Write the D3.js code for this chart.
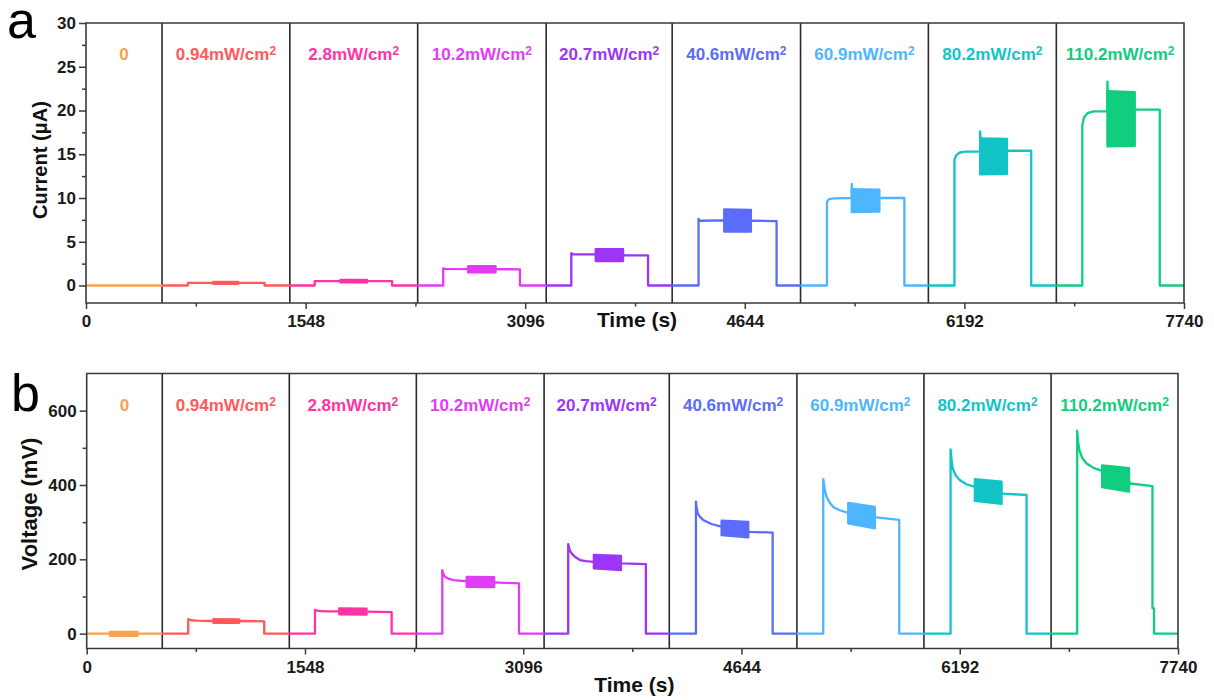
<!DOCTYPE html>
<html><head><meta charset="utf-8">
<script src="https://cdn.jsdelivr.net/npm/d3@7"></script>
<style>body{margin:0;background:#fff;} svg{display:block;font-family:"Liberation Sans",Arial,sans-serif;}</style>
</head><body><svg id="c" width="1214" height="700"></svg>
<script>
// ---- data ----
const segBounds = [0, 536, 1437, 2338, 3244, 4132, 5037, 5938, 6840, 7740];
const intensities = ["0", "0.94", "2.8", "10.2", "20.7", "40.6", "60.9", "80.2", "110.2"];
const seriesColors = ["#f7a24e", "#ff5a5a", "#ff33a3", "#e03df5", "#9b35f7", "#5b6bfa", "#4db6ff", "#12c4c6", "#10cd80"];
const xTicks = [0, 1548, 3096, 4644, 6192, 7740];
const xMinorTicks = [774, 2322, 3870, 5418, 6966];
const currentTicks = [0, 5, 10, 15, 20, 25, 30];
const currentMinorTicks = [2.5, 7.5, 12.5, 17.5, 22.5, 27.5];
const voltageTicks = [0, 200, 400, 600];
const voltageMinorTicks = [100, 300, 500];

const currentTraces = [
  [[0,0],[536,0]],
  [[536,0],[718,0],[718,0.3],[1259,0.3],[1259,0],[1437,0]],
  [[1437,0],[1612,0],[1612,0.5],[2158,0.5],[2158,0],[2338,0]],
  [[2338,0],[2518,0],[2518,1.95],[2530,1.9],[3059,1.85],[3059,0],[3244,0]],
  [[3244,0],[3421,0],[3421,3.7],[3432,3.55],[3593,3.55],[3786,3.45],[3962,3.45],[3962,0],[4132,0]],
  [[4132,0],[4318,0],[4318,7.6],[4328,7.4],[4499,7.45],[4687,7.4],[4868,7.35],[4868,0],[5037,0]],
  [[5037,0],[5223,0],[5223,9.5],[5235,9.85],[5270,9.95],[5398,10.0],[5398,11.6],[5405,10.0],[5593,10.0],[5769,10.0],[5769,0],[5938,0]],
  [[5938,0],[6122,0],[6122,14.4],[6135,14.9],[6160,15.2],[6200,15.3],[6303,15.3],[6303,17.6],[6310,15.3],[6492,15.4],[6663,15.4],[6663,0],[6840,0]],
  [[6840,0],[7023,0],[7023,18.3],[7035,19.2],[7060,19.7],[7100,19.9],[7200,19.9],[7200,23.3],[7207,20],[7393,20.1],[7569,20.1],[7569,0],[7740,0]]
];
const currentBlocks = [
  null,
  [[897,0.2,0.4],[1073,0.2,0.4]],
  [[1793,0.35,0.65],[1981,0.35,0.65]],
  [[2694,1.5,2.2],[2887,1.5,2.2]],
  [[3593,2.8,4.15],[3786,2.8,4.15]],
  [[4499,6.15,8.7],[4687,6.15,8.65]],
  [[5398,8.4,11.0],[5593,8.45,10.95]],
  [[6303,12.7,16.8],[6492,12.75,16.75]],
  [[7200,15.9,22.2],[7393,15.95,22.1]]
];
const voltageTraces = [
  [[0,0],[536,0]],
  [[536,0],[720,0],[720,39],[740,36],[780,35],[898,34],[1082,34],[1259,33],[1259,0],[1437,0]],
  [[1437,0],[1619,0],[1619,64],[1640,61],[1700,60],[1791,60],[1985,59],[2163,58],[2163,0],[2338,0]],
  [[2338,0],[2522,0],[2522,171],[2530,160],[2541,153],[2565,148],[2600,144],[2695,141],[2890,137],[2895,138],[3066,135],[3066,0],[3244,0]],
  [[3244,0],[3415,0],[3415,241],[3425,225],[3439,216],[3465,206],[3498,198],[3540,195],[3597,193],[3789,190],[3795,189],[3966,187],[3966,0],[4132,0]],
  [[4132,0],[4321,0],[4321,355],[4327,336],[4333,324],[4350,314],[4372,306],[4430,295],[4503,288],[4692,277],[4700,274],[4865,272],[4865,0],[5037,0]],
  [[5037,0],[5224,0],[5224,416],[5236,385],[5248,368],[5270,352],[5295,341],[5340,332],[5401,325],[5590,315],[5600,313],[5763,306],[5763,0],[5938,0]],
  [[5938,0],[6127,0],[6127,496],[6134,468],[6142,445],[6165,425],[6194,413],[6240,402],[6299,395],[6489,380],[6495,377],[6666,373],[6666,0],[6840,0]],
  [[6840,0],[7025,0],[7025,546],[7031,518],[7040,494],[7062,472],[7092,458],[7140,446],[7202,438],[7393,410],[7400,404],[7559,397],[7559,68],[7570,68],[7570,0],[7740,0]]
];
const voltageBlocks = [
  [[165,-6,5],[361,-6,5]],
  [[898,29,39],[1082,29,38]],
  [[1791,52,68],[1985,51,67]],
  [[2695,126,153],[2890,125,152]],
  [[3597,176,212],[3789,171,209]],
  [[4503,265,304],[4692,259,301]],
  [[5401,297,352],[5590,283,341]],
  [[6299,357,416],[6489,349,409]],
  [[7202,394,453],[7393,382,445]]
];

// ---- drawing ----
const svg = d3.select("#c");

function drawPanel(cfg) {
  const g = svg.append("g");
  const x = d3.scaleLinear().domain([0, 7740]).range([cfg.left, cfg.right]);
  const y = d3.scaleLinear().domain(cfg.yDomain).range([cfg.bottom, cfg.top]);

  // separators
  g.selectAll("line.sep").data(segBounds.slice(1, -1)).enter().append("line")
    .attr("x1", d => x(d)).attr("x2", d => x(d))
    .attr("y1", cfg.bottom).attr("y2", cfg.top)
    .attr("stroke", "#2a2a2a").attr("stroke-width", 1.6);

  // traces
  const line = d3.line().x(d => x(d[0])).y(d => y(d[1]));
  g.selectAll("path.trace").data(cfg.traces).enter().append("path")
    .attr("d", line).attr("fill", "none")
    .attr("stroke", (d, i) => seriesColors[i]).attr("stroke-width", 2.3)
    .attr("stroke-linejoin", "round");

  // oscillation blocks
  const area = d3.area().x(d => x(d[0])).y0(d => y(d[1])).y1(d => y(d[2]));
  cfg.blocks.forEach((b, i) => {
    if (!b) return;
    g.append("path").attr("d", area(b))
      .attr("fill", seriesColors[i]).attr("stroke", seriesColors[i])
      .attr("stroke-width", 2.3).attr("stroke-linejoin", "round");
  });

  // frame
  g.append("path")
    .attr("d", `M${cfg.left},${cfg.top}H${cfg.right}V${cfg.bottom}H${cfg.left}Z`)
    .attr("fill", "none").attr("stroke", "#3a3a3a").attr("stroke-width", 1.6);

  // axes
  const fontTick = "bold 17px 'Liberation Sans', Arial, sans-serif";
  const xAxis = g.append("g").attr("transform", `translate(0,${cfg.bottom})`)
    .call(d3.axisBottom(x).tickValues(xTicks).tickSize(6).tickSizeOuter(0).tickPadding(6).tickFormat(d3.format("d")));
  const xMinor = g.append("g").attr("transform", `translate(0,${cfg.bottom})`)
    .call(d3.axisBottom(x).tickValues(xMinorTicks).tickSize(3.5).tickSizeOuter(0).tickFormat(""));
  const yAxis = g.append("g").attr("transform", `translate(${cfg.left},0)`)
    .call(d3.axisLeft(y).tickValues(cfg.yTicks).tickSize(7).tickSizeOuter(0).tickPadding(3).tickFormat(d3.format("d")));
  const yMinor = g.append("g").attr("transform", `translate(${cfg.left},0)`)
    .call(d3.axisLeft(y).tickValues(cfg.yMinor).tickSize(4).tickSizeOuter(0).tickFormat(""));
  [xAxis, xMinor, yAxis, yMinor].forEach(a => {
    a.select(".domain").remove();
    a.selectAll(".tick line").attr("stroke", "#3a3a3a").attr("stroke-width", 1.5);
    a.selectAll(".tick text").style("font", fontTick).attr("fill", "#1a1a1a");
  });

  // segment labels
  const mids = segBounds.slice(0, -1).map((s, i) => (s + segBounds[i + 1]) / 2);
  const lab = g.selectAll("text.lab").data(intensities).enter().append("text")
    .attr("x", (d, i) => x(mids[i])).attr("y", cfg.labelY)
    .attr("text-anchor", "middle").attr("fill", (d, i) => seriesColors[i])
    .style("font", "bold 17px 'Liberation Sans', Arial, sans-serif");
  lab.each(function(d) {
    const t = d3.select(this);
    if (d === "0") { t.text("0"); return; }
    t.append("tspan").text(d + "mW/cm");
    t.append("tspan").attr("dy", -5).style("font-size", "12px").text("2");
  });

  // axis titles
  g.append("text").attr("x", (cfg.left + cfg.right) / 2 + 2).attr("y", cfg.xTitleY)
    .attr("text-anchor", "middle").attr("fill", "#111")
    .style("font", "bold 21px 'Liberation Sans', Arial, sans-serif").text("Time (s)");
  g.append("text").attr("transform", `translate(${cfg.yTitleX},${cfg.yTitleCY}) rotate(-90)`)
    .attr("text-anchor", "middle").attr("fill", "#111")
    .style("font", `bold ${cfg.yTitleSize}px 'Liberation Sans', Arial, sans-serif`).text(cfg.yTitle);

  // panel letter
  g.append("text").attr("x", cfg.letterX).attr("y", cfg.letterY)
    .attr("fill", "#000").style("font", "52px 'Liberation Sans', Arial, sans-serif").text(cfg.letter);
}

drawPanel({
  left: 86, right: 1184, top: 23, bottom: 303, yDomain: [-2, 30],
  traces: currentTraces, blocks: currentBlocks,
  yTicks: currentTicks, yMinor: currentMinorTicks,
  labelY: 60, xTitleY: 327, yTitle: "Current (μA)", yTitleX: 47, yTitleCY: 160, yTitleSize: 20,
  letter: "a", letterX: 7, letterY: 38
});
drawPanel({
  left: 86.7, right: 1178, top: 373.5, bottom: 648.5, yDomain: [-40, 700],
  traces: voltageTraces, blocks: voltageBlocks,
  yTicks: voltageTicks, yMinor: voltageMinorTicks,
  labelY: 411, xTitleY: 692, yTitle: "Voltage (mV)", yTitleX: 37, yTitleCY: 504, yTitleSize: 22,
  letter: "b", letterX: 11, letterY: 411
});
</script></body></html>
